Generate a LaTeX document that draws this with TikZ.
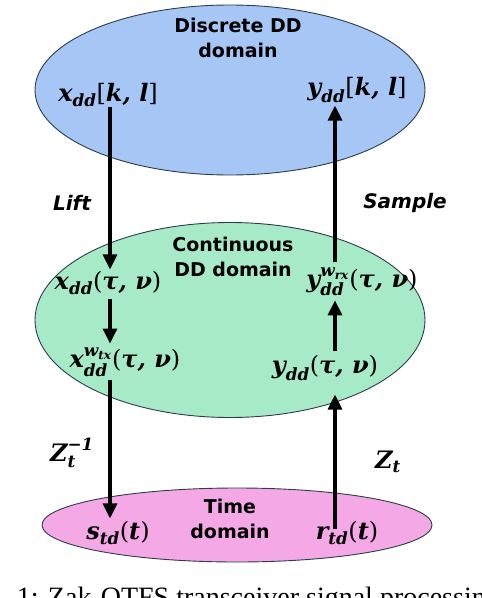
\documentclass[tikz,border=0pt]{standalone}
\usepackage{amsmath}
\usepackage{fontspec}
\setsansfont{DejaVu Sans}
\setmainfont{Liberation Serif}
\newfontfamily\sigfont{DejaVu Serif}
\usepackage{tikz}
\usetikzlibrary{positioning,arrows.meta,shapes.geometric,calc}

\definecolor{discblue}{HTML}{A6C6F6}
\definecolor{contgreen}{HTML}{A6EAC8}
\definecolor{timepink}{HTML}{F4A8E6}
\definecolor{rimgray}{HTML}{2C3C48}

% bold italic / upright pieces of the signal names
\newcommand{\sv}[1]{\text{\sigfont\bfseries\itshape #1}}
\newcommand{\su}[1]{\text{\sigfont #1}}

\begin{document}
\begin{tikzpicture}[x=1pt, y=-1pt,
  domainbox/.style={ellipse, draw=rimgray, line width=0.9pt, inner sep=0pt},
  dlabel/.style={font=\sffamily\bfseries\fontsize{19}{25}\selectfont, align=center},
  op/.style={font=\sffamily\bfseries\itshape\fontsize{20}{24}\selectfont},
  sig/.style={font=\fontsize{24}{28}\selectfont, inner sep=0pt},
  flow/.style={line width=3.2pt, -{Triangle[length=15pt, width=14pt]}}]
  \clip (0,0) rectangle (482,598);
  % three domains
  \node[domainbox, fill=discblue, minimum width=390, minimum height=170] (disc) at (230,90) {};
  \node[domainbox, fill=contgreen, minimum width=390, minimum height=195] (cont) at (230,320) {};
  \node[domainbox, fill=timepink, minimum width=390, minimum height=74] (time) at (237,525) {};

  % domain titles
  \node[dlabel] (disct) at (238,38) {Discrete DD\\domain};
  \node[dlabel] (contt) at (233,257) {Continuous\\DD domain};
  \node[dlabel] (timet) at (230,519) {Time\\domain};

  % signals, transmit side
  \node[sig] (xk) at (108,95) {$\sv{x}_{\sv{dd}}\su{[}\sv{k, l}\su{]}$};
  \node[sig] (xc) at (108,283) {$\sv{x}_{\sv{dd}}\su{(}\sv{τ, ν}\su{)}$};
  \node[sig] (xw) at (125,362) {$\sv{x}_{\sv{dd}}^{\sv{w}_{\sv{tx}}}\su{(}\sv{τ, ν}\su{)}$};
  \node[sig] (st) at (118,533) {$\sv{s}_{\sv{td}}\su{(}\sv{t}\su{)}$};
  % signals, receive side
  \node[sig] (yk) at (357,90) {$\sv{y}_{\sv{dd}}\su{[}\sv{k, l}\su{]}$};
  \node[sig] (yw) at (362,282) {$\sv{y}_{\sv{dd}}^{\sv{w}_{\sv{rx}}}\su{(}\sv{τ, ν}\su{)}$};
  \node[sig] (yc) at (325,368) {$\sv{y}_{\sv{dd}}\su{(}\sv{τ, ν}\su{)}$};
  \node[sig] (rt) at (347,533) {$\sv{r}_{\sv{td}}\su{(}\sv{t}\su{)}$};

  % operator labels
  \node[op] (lift) at (72,203) {Lift};
  \node[op] (samp) at (405,203) {Sample};
  \node[sig] (zinv) at (72,453) {$\sv{Z}_{\sv{t}}^{\sv{−1}}$};
  \node[sig] (zfwd) at (388,462) {$\sv{Z}_{\sv{t}}$};

  \coordinate (lc) at (110,0);
  \coordinate (rc) at (335,0);
  \draw[flow] (xk.south -| lc) -- ([yshift=2]xc.north -| lc);
  \draw[flow] ([yshift=-4]xc.south -| lc) -- ([yshift=4]xw.north -| lc);
  \draw[flow] ([yshift=-4]xw.south -| lc) -- ([yshift=3]st.north -| lc);
  \draw[flow] ([yshift=-8]rt.north -| rc) -- ([yshift=-14]yc.south -| rc);
  \draw[flow] ([yshift=4]yc.north -| rc) -- ([yshift=-4]yw.south -| rc);
  \draw[flow] ([yshift=6]yw.north -| rc) -- ([yshift=-3]yk.south -| rc);

  % caption, cut off by the frame
  \node[anchor=base west, font=\fontsize{28}{32}\selectfont, inner sep=0pt] (capt) at (-37,606)
    {Fig. 1: Zak-OTFS transceiver signal processing};
\end{tikzpicture}
\end{document}
